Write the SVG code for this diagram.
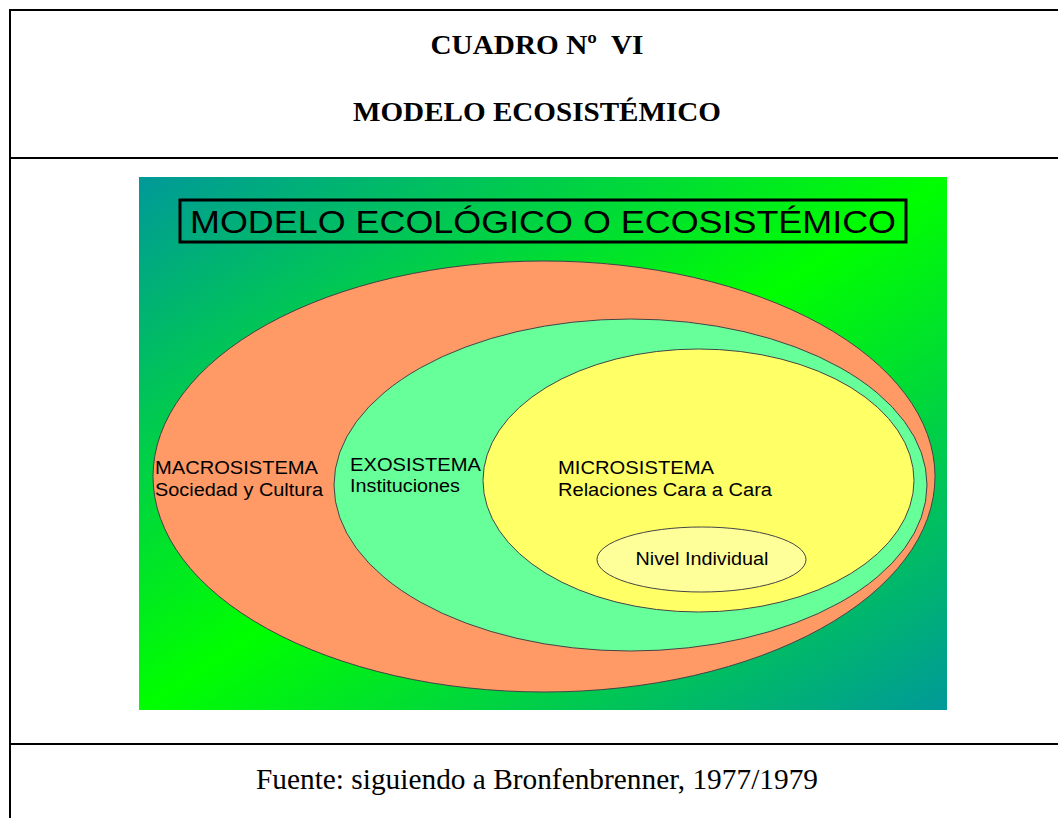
<svg xmlns="http://www.w3.org/2000/svg" width="1058" height="818" viewBox="0 0 1058 818">
<style>
.frame{stroke:#000;stroke-width:2;fill:none}
.head{font-family:"Liberation Serif",serif;font-weight:bold;font-size:28px;fill:#000;text-anchor:middle}
.foot{font-family:"Liberation Serif",serif;font-size:29px;fill:#000;text-anchor:middle}
.lbl{font-family:"Liberation Sans",Arial,sans-serif;font-size:18px;fill:#000}
.ell{stroke:#444;stroke-width:1}
</style>
<defs>
<linearGradient id="bg" x1="0" y1="0" x2="1" y2="1">
<stop offset="0" stop-color="#009999"/>
<stop offset="0.5" stop-color="#00ff00"/>
<stop offset="1" stop-color="#009999"/>
</linearGradient>
</defs>
<rect width="1058" height="818" fill="#fff"/>
<g id="frame">
<line class="frame" x1="9" y1="10" x2="1058" y2="10"/>
<line class="frame" x1="10" y1="9" x2="10" y2="818"/>
<line class="frame" x1="9" y1="158" x2="1058" y2="158"/>
<line class="frame" x1="9" y1="744" x2="1058" y2="744"/>
</g>
<g id="header">
<text class="head" x="537" y="54" xml:space="preserve" textLength="213" lengthAdjust="spacingAndGlyphs">CUADRO Nº  VI</text>
<text class="head" x="537" y="121" textLength="368" lengthAdjust="spacingAndGlyphs">MODELO ECOSISTÉMICO</text>
</g>
<rect id="background" x="139" y="177" width="808" height="533" fill="url(#bg)"/>
<g id="title">
<rect x="180" y="200" width="726" height="42" fill="none" stroke="#000" stroke-width="3"/>
<text x="543" y="233" font-family="'Liberation Sans',Arial,sans-serif" font-size="32" text-anchor="middle" textLength="706" lengthAdjust="spacingAndGlyphs">MODELO ECOLÓGICO O ECOSISTÉMICO</text>
</g>
<g id="macrosistema">
<ellipse class="ell" cx="544" cy="476.5" rx="391" ry="215.5" fill="#ff9966"/>
<text class="lbl" x="155" y="474" textLength="163" lengthAdjust="spacingAndGlyphs">MACROSISTEMA</text>
<text class="lbl" x="155" y="496" textLength="168" lengthAdjust="spacingAndGlyphs">Sociedad y Cultura</text>
</g>
<g id="exosistema">
<ellipse class="ell" cx="630.5" cy="485" rx="296.5" ry="166" fill="#66ff99"/>
<text class="lbl" x="350" y="471" textLength="131" lengthAdjust="spacingAndGlyphs">EXOSISTEMA</text>
<text class="lbl" x="350" y="492" textLength="110" lengthAdjust="spacingAndGlyphs">Instituciones</text>
</g>
<g id="microsistema">
<ellipse class="ell" cx="698.5" cy="480.5" rx="215.5" ry="131.5" fill="#ffff66"/>
<text class="lbl" x="558" y="474" textLength="156" lengthAdjust="spacingAndGlyphs">MICROSISTEMA</text>
<text class="lbl" x="558" y="496" textLength="214" lengthAdjust="spacingAndGlyphs">Relaciones Cara a Cara</text>
</g>
<g id="nivel-individual">
<ellipse class="ell" cx="701.5" cy="559.5" rx="104.5" ry="32.5" fill="#ffff99"/>
<text class="lbl" x="702" y="565" text-anchor="middle" textLength="133" lengthAdjust="spacingAndGlyphs">Nivel Individual</text>
</g>
<g id="connectors"/>
<g id="footer">
<text class="foot" x="537" y="789" textLength="562" lengthAdjust="spacingAndGlyphs">Fuente: siguiendo a Bronfenbrenner, 1977/1979</text>
</g>
</svg>
